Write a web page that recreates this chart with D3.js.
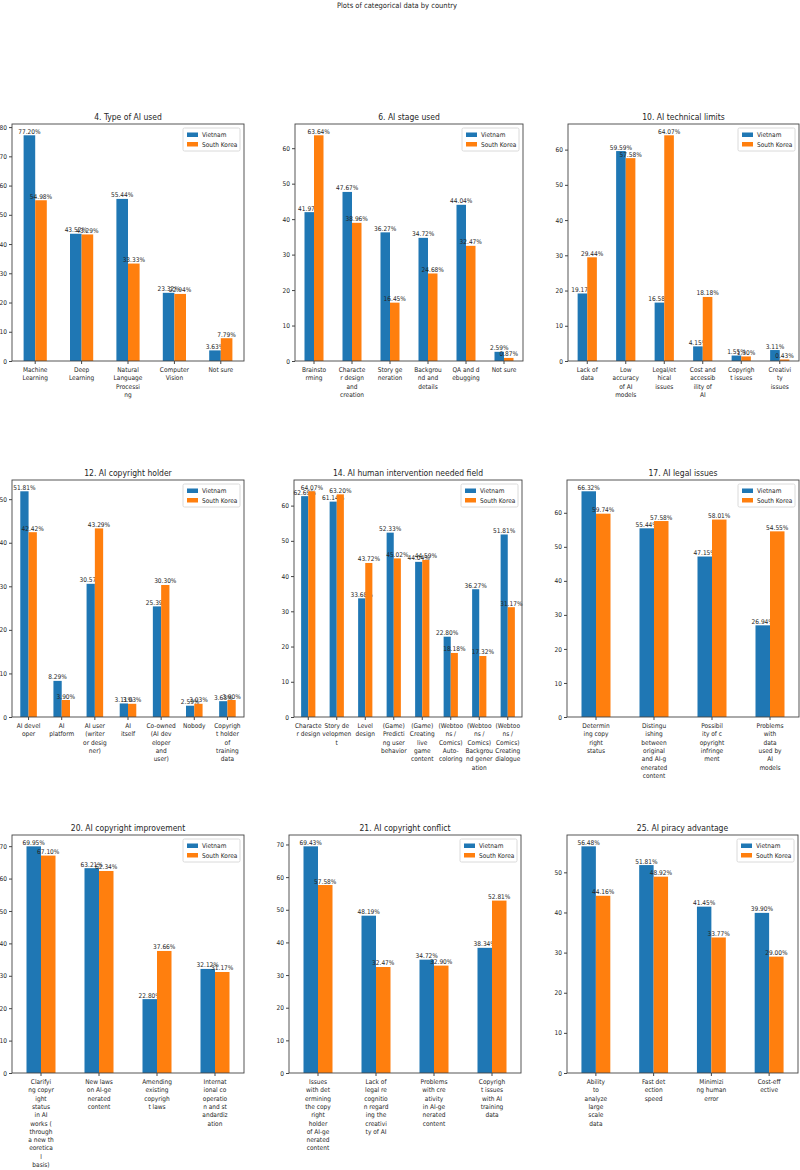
<!DOCTYPE html>
<html>
<head>
<meta charset="utf-8">
<script src="https://cdn.jsdelivr.net/npm/d3@7"></script>
<style>
  body { margin: 0; background: #fff; }
  svg { display: block; }
  text { font-family: 'DejaVu Sans Condensed', 'DejaVu Sans', sans-serif; fill: #262626; }
</style>
</head>
<body>
<div class="d3-content"></div>
<script>
/************************/
/*         Data         */
/************************/
const seriesNames = ['Vietnam', 'South Korea'];

// 4. Type of AI used
const aiTypeCategories = ['Machine\nLearning', 'Deep\nLearning', 'Natural\nLanguage\nProcessi\nng', 'Computer\nVision', 'Not sure'];
const aiTypeVietnam = [77.20, 43.52, 55.44, 23.32, 3.63];
const aiTypeKorea = [54.98, 43.29, 33.33, 22.94, 7.79];

// 6. AI stage used
const aiStageCategories = ['Brainsto\nrming', 'Characte\nr design\nand\ncreation', 'Story ge\nneration', 'Backgrou\nnd and\ndetails', 'QA and d\nebugging', 'Not sure'];
const aiStageVietnam = [41.97, 47.67, 36.27, 34.72, 44.04, 2.59];
const aiStageKorea = [63.64, 38.96, 16.45, 24.68, 32.47, 0.87];

// 10. AI technical limits
const techLimitCategories = ['Lack of\ndata', 'Low\naccuracy\nof AI\nmodels', 'Legal/et\nhical\nissues', 'Cost and\naccessib\nility of\nAI', 'Copyrigh\nt issues', 'Creativi\nty\nissues'];
const techLimitVietnam = [19.17, 59.59, 16.58, 4.15, 1.55, 3.11];
const techLimitKorea = [29.44, 57.58, 64.07, 18.18, 1.30, 0.43];

// 12. AI copyright holder
const holderCategories = ['AI devel\noper', 'AI\nplatform', 'AI user\n(writer\nor desig\nner)', 'AI\nitself', 'Co-owned\n(AI dev\neloper\nand\nuser)', 'Nobody', 'Copyrigh\nt holder\nof\ntraining\ndata'];
const holderVietnam = [51.81, 8.29, 30.57, 3.11, 25.39, 2.59, 3.63];
const holderKorea = [42.42, 3.90, 43.29, 3.03, 30.30, 3.03, 3.90];

// 14. AI human intervention needed field
const interventionCategories = ['Characte\nr design', 'Story de\nvelopmen\nt', 'Level\ndesign', '(Game)\nPredicti\nng user\nbehavior', '(Game)\nCreating\nlive\ngame\ncontent', '(Webtoo\nns /\nComics)\nAuto-\ncoloring', '(Webtoo\nns /\nComics)\nBackgrou\nnd gener\nation', '(Webtoo\nns /\nComics)\nCreating\ndialogue'];
const interventionVietnam = [62.69, 61.14, 33.68, 52.33, 44.04, 22.80, 36.27, 51.81];
const interventionKorea = [64.07, 63.20, 43.72, 45.02, 44.59, 18.18, 17.32, 31.17];

// 17. AI legal issues
const legalCategories = ['Determin\ning copy\nright\nstatus', 'Distingu\nishing\nbetween\noriginal\nand AI-g\nenerated\ncontent', 'Possibil\nity of c\nopyright\ninfringe\nment', 'Problems\nwith\ndata\nused by\nAI\nmodels'];
const legalVietnam = [66.32, 55.44, 47.15, 26.94];
const legalKorea = [59.74, 57.58, 58.01, 54.55];

// 20. AI copyright improvement
const improvementCategories = ['Clarifyi\nng copyr\night\nstatus\nin AI\nworks (\nthrough\na new th\neoretica\nl\nbasis)', 'New laws\non AI-ge\nnerated\ncontent', 'Amending\nexisting\ncopyrigh\nt laws', 'Internat\nional co\noperatio\nn and st\nandardiz\nation'];
const improvementVietnam = [69.95, 63.21, 22.80, 32.12];
const improvementKorea = [67.10, 62.34, 37.66, 31.17];

// 21. AI copyright conflict
const conflictCategories = ['Issues\nwith det\nermining\nthe copy\nright\nholder\nof AI-ge\nnerated\ncontent', 'Lack of\nlegal re\ncognitio\nn regard\ning the\ncreativi\nty of AI', 'Problems\nwith cre\nativity\nin AI-ge\nnerated\ncontent', 'Copyrigh\nt issues\nwith AI\ntraining\ndata'];
const conflictVietnam = [69.43, 48.19, 34.72, 38.34];
const conflictKorea = [57.58, 32.47, 32.90, 52.81];

// 25. AI piracy advantage
const piracyCategories = ['Ability\nto\nanalyze\nlarge\nscale\ndata', 'Fast det\nection\nspeed', 'Minimizi\nng human\nerror', 'Cost-eff\nective'];
const piracyVietnam = [56.48, 51.81, 41.45, 39.90];
const piracyKorea = [44.16, 48.92, 33.77, 29.00];

const panels = [
  { title: '4. Type of AI used', categories: aiTypeCategories, values: [aiTypeVietnam, aiTypeKorea] },
  { title: '6. AI stage used', categories: aiStageCategories, values: [aiStageVietnam, aiStageKorea] },
  { title: '10. AI technical limits', categories: techLimitCategories, values: [techLimitVietnam, techLimitKorea] },
  { title: '12. AI copyright holder', categories: holderCategories, values: [holderVietnam, holderKorea] },
  { title: '14. AI human intervention needed field', categories: interventionCategories, values: [interventionVietnam, interventionKorea] },
  { title: '17. AI legal issues', categories: legalCategories, values: [legalVietnam, legalKorea] },
  { title: '20. AI copyright improvement', categories: improvementCategories, values: [improvementVietnam, improvementKorea] },
  { title: '21. AI copyright conflict', categories: conflictCategories, values: [conflictVietnam, conflictKorea] },
  { title: '25. AI piracy advantage', categories: piracyCategories, values: [piracyVietnam, piracyKorea] },
];


/************************/
/*      Dimensions      */
/************************/
const width = 800;
const height = 1170;
const rowTops = [124, 480, 835];
const rowBottoms = [361, 717, 1073];
const colBoxes = [
  [[12, 244], [295, 523], [568, 799]],
  [[12, 244], [294, 522], [567, 799]],
  [[12, 244], [289, 521], [567, 798]],
];


/**********************/
/*       Colors       */
/**********************/
const seriesColors = ['#1f77b4', '#ff7f0e'];
const axisColor = '#444';
const fontSmall = 6.5;
const lineHeight = 8.3;


/***************************/
/*    Draw one subplot     */
/***************************/
const drawPanel = (svg, panel, box) => {
  const w = box.x1 - box.x0;
  const h = box.y1 - box.y0;

  const g = svg.append('g')
    .attr('transform', `translate(${box.x0}, ${box.y0})`);

  // Scales, matplotlib-like autoscale with 5% top margin
  const yMax = d3.max(panel.values.flat()) * 1.05;
  const yScale = d3.scaleLinear()
    .domain([0, yMax])
    .range([h, 0]);

  const xScale = d3.scaleBand()
    .domain(panel.categories)
    .range([0, w])
    .padding(0);

  const bw = xScale.bandwidth();
  const seriesScale = d3.scaleBand()
    .domain(seriesNames)
    .range([bw * 0.25, bw * 0.75]);

  // Bars + value labels
  seriesNames.forEach((name, si) => {
    const rows = panel.categories.map((c, i) => ({ category: c, value: panel.values[si][i] }));
    const sg = g.append('g');

    sg.selectAll('rect')
      .data(rows)
      .join('rect')
        .attr('x', d => xScale(d.category) + seriesScale(name))
        .attr('y', d => yScale(d.value))
        .attr('width', seriesScale.bandwidth())
        .attr('height', d => h - yScale(d.value))
        .attr('fill', seriesColors[si]);

    sg.selectAll('text')
      .data(rows)
      .join('text')
        .text(d => d3.format('.2f')(d.value) + '%')
        .attr('x', d => xScale(d.category) + seriesScale(name) + seriesScale.bandwidth() / 2)
        .attr('y', d => yScale(d.value) - 1.5)
        .attr('text-anchor', 'middle')
        .style('font-size', `${fontSmall}px`);
  });

  // Y axis
  const leftAxis = d3.axisLeft(yScale)
    .tickValues(d3.range(0, yMax, 10))
    .tickSize(3)
    .tickPadding(2)
    .tickFormat(d3.format('d'));
  const yAxis = g.append('g').call(leftAxis);
  yAxis.select('.domain').remove();
  yAxis.selectAll('line').attr('stroke', axisColor);
  yAxis.selectAll('text')
    .style('font-size', `${fontSmall}px`)
    .attr('fill', '#262626');

  // X axis with wrapped labels
  const bottomAxis = d3.axisBottom(xScale)
    .tickSize(3)
    .tickFormat('');
  const xAxis = g.append('g')
    .attr('transform', `translate(0, ${h})`)
    .call(bottomAxis);
  xAxis.select('.domain').remove();
  xAxis.selectAll('line').attr('stroke', axisColor);
  xAxis.selectAll('.tick')
    .append('text')
      .attr('text-anchor', 'middle')
      .style('font-size', `${fontSmall}px`)
      .attr('fill', '#262626')
    .selectAll('tspan')
    .data(d => d.split('\n'))
    .join('tspan')
      .attr('x', 0)
      .attr('y', (d, i) => 11 + i * lineHeight)
      .text(d => d);

  // Frame
  g.append('rect')
    .attr('width', w)
    .attr('height', h)
    .attr('fill', 'none')
    .attr('stroke', axisColor)
    .attr('stroke-width', 0.9);

  // Title
  g.append('text')
    .text(panel.title)
    .attr('x', w / 2)
    .attr('y', -4)
    .attr('text-anchor', 'middle')
    .style('font-size', '8.5px');

  // Legend
  const lw = 57;
  const legend = g.append('g')
    .attr('transform', `translate(${w - lw - 4}, 4)`);
  legend.append('rect')
    .attr('width', lw)
    .attr('height', 23)
    .attr('rx', 1.5)
    .attr('fill', '#fff')
    .attr('fill-opacity', 0.85)
    .attr('stroke', '#d0d0d0')
    .attr('stroke-width', 0.8);
  seriesNames.forEach((name, si) => {
    legend.append('rect')
      .attr('x', 4)
      .attr('y', 4.5 + si * 9.5)
      .attr('width', 11)
      .attr('height', 4.5)
      .attr('fill', seriesColors[si]);
    legend.append('text')
      .text(name)
      .attr('x', 19)
      .attr('y', 9.3 + si * 9.5)
      .style('font-size', `${fontSmall}px`);
  });
};


/*******************************/
/*    Append the containers    */
/*******************************/
const svg = d3.select('.d3-content')
  .append('svg')
    .attr('width', width)
    .attr('height', height)
    .attr('viewBox', `0, 0, ${width}, ${height}`);

svg.append('text')
  .text('Plots of categorical data by country')
  .attr('x', 397)
  .attr('y', 8)
  .attr('text-anchor', 'middle')
  .style('font-size', '7.5px');

panels.forEach((panel, i) => {
  const row = Math.floor(i / 3);
  const col = i % 3;
  const [x0, x1] = colBoxes[row][col];
  drawPanel(svg, panel, { x0, x1, y0: rowTops[row], y1: rowBottoms[row] });
});
</script>
</body>
</html>
